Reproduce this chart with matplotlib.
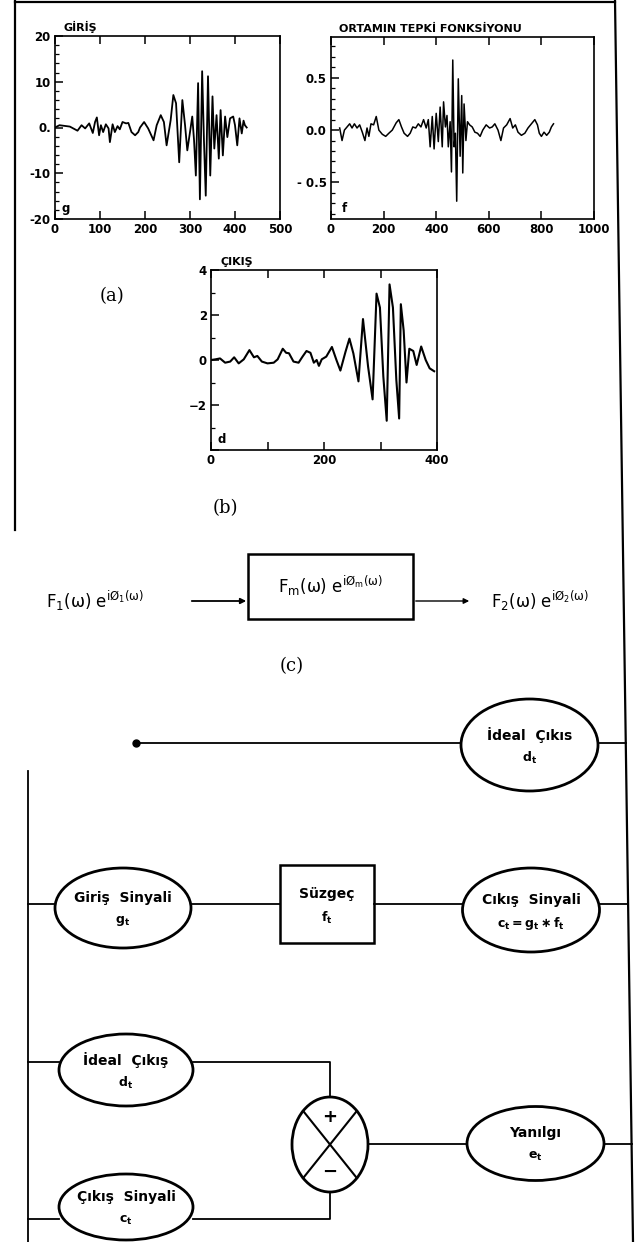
import numpy as np
import matplotlib.pyplot as plt
from matplotlib.patches import Ellipse, Rectangle

plt.rcParams['font.family'] = ['Liberation Sans Narrow', 'DejaVu Sans']
plt.rcParams['mathtext.fontset'] = 'dejavusans'

# --- data ---
# input signal g (GIRIS)
giris_t = [0, 10, 33, 50, 59, 67, 76, 84, 89, 93, 98, 102, 107, 113, 119, 122, 128, 133, 139,
           144, 150, 158, 163, 170, 178, 185, 189, 198, 207, 219, 226, 235, 242, 248, 257, 263,
           269, 276, 283, 289, 294, 300, 305, 309, 313, 318, 322, 327, 331, 335, 340, 345, 350,
           354, 359, 364, 368, 373, 378, 383, 389, 396, 400, 405, 410, 415, 419, 422, 426]
giris_v = [0, 0.5, 0.2, -0.7, 0.5, -0.2, 0.9, -1.2, 1.2, 2.2, -1.7, 0.5, -1.0, 0.7, -0.2, -3.2,
           0.7, -1.0, 0.3, -0.4, 1.2, 0.9, 1.0, -1.0, -1.7, -1.0, 0.0, 1.2, -0.2, -2.8, 0.5, 2.7,
           1.2, -3.9, 1.6, 7.1, 5.3, -7.6, 6.0, 0.5, -5.0, -1.0, 2.4, -2.8, -10.5, 9.7, -15.7,
           12.3, -2.8, -14.9, 11.2, -10.5, 6.8, -4.6, 2.7, -6.8, 3.8, -6.1, 2.4, -2.1, 2.0, 2.4,
           0.5, -3.9, 2.0, -1.3, 1.5, 0.5, 0.0]

# medium response f (ORTAMIN TEPKI FONKSIYONU)
ortam_t = [33, 42, 51, 61, 71, 80, 89, 99, 109, 119, 129, 137, 144, 152, 162, 172, 182, 195,
           208, 220, 233, 248, 258, 268, 278, 291, 301, 311, 322, 332, 342, 352, 362, 370, 377,
           385, 392, 400, 408, 415, 423, 428, 435, 441, 446, 453, 458, 463, 468, 473, 478, 484,
           491, 497, 501, 506, 513, 519, 527, 537, 547, 557, 567, 577, 590, 603, 613, 623, 635,
           646, 656, 668, 681, 691, 701, 711, 724, 737, 749, 762, 775, 785, 792, 800, 810, 820,
           830, 838, 846]
ortam_v = [0.02, -0.1, 0.0, 0.03, 0.06, 0.02, 0.06, 0.02, 0.05, -0.02, -0.1, 0.02, -0.06,
           0.06, 0.05, 0.13, 0.0, -0.04, -0.06, -0.03, 0.0, 0.07, 0.1, 0.03, -0.03, -0.06,
           -0.03, 0.03, 0.02, 0.06, 0.03, 0.1, 0.02, 0.1, -0.16, 0.13, -0.18, 0.16, -0.11,
           0.22, -0.16, 0.27, 0.03, 0.14, -0.16, 0.08, -0.4, 0.67, -0.16, -0.03, -0.68, 0.49,
           -0.25, 0.33, -0.41, 0.25, -0.1, 0.08, 0.05, 0.03, -0.02, -0.03, -0.06, 0.0, 0.05,
           0.02, 0.03, 0.06, 0.0, -0.1, 0.02, 0.05, 0.11, 0.02, 0.05, -0.02, -0.05, -0.03, 0.02,
           0.06, 0.1, 0.05, -0.03, -0.06, -0.02, -0.05, -0.02, 0.03, 0.06]

# output signal d (CIKIS)
cikis_t = [0, 8, 16, 25, 34, 41, 49, 58, 68, 76, 82, 90, 100, 111, 118, 127, 133, 138, 146,
           155, 162, 169, 176, 182, 187, 191, 196, 204, 214, 222, 229, 238, 245, 252, 261, 269,
           278, 286, 293, 299, 305, 311, 316, 322, 328, 333, 336, 341, 346, 351, 358, 364, 372,
           380, 387, 395]
cikis_v = [0.0, 0.03, 0.07, -0.12, -0.07, 0.12, -0.15, 0.03, 0.44, 0.12, 0.18, -0.07, -0.15,
           -0.12, 0.03, 0.5, 0.32, 0.3, -0.07, -0.12, 0.15, 0.4, 0.32, -0.12, 0.0, -0.26, 0.03,
           0.15, 0.58, 0.0, -0.47, 0.36, 0.95, 0.29, -0.95, 1.82, -0.29, -1.75, 2.95, 2.33,
           -0.73, -2.7, 3.36, 2.33, -0.88, -2.6, 2.48, 1.31, -1.0, 0.5, 0.4, -0.22, 0.6, 0.0,
           -0.37, -0.5]

W, H = 639, 1242
fig = plt.figure(figsize=(W / 100, H / 100), dpi=100)


def rect(l, t, r, b):
    return [l / W, 1 - b / H, (r - l) / W, (b - t) / H]


# overlay in pixel coords for frame, labels and block diagrams
ax0 = fig.add_axes([0, 0, 1, 1])
ax0.set_xlim(0, W)
ax0.set_ylim(H, 0)
ax0.axis('off')


def border_x(y):
    return 615 + 18 * y / H


# outer frame pieces
ax0.plot([15, 615], [2, 2], color='k', lw=1.6)
ax0.plot([border_x(0), border_x(H)], [0, H], color='k', lw=1.6)
ax0.plot([15, 15], [0, 530], color='k', lw=1.6)

tick_font = dict(fontsize=8.5, fontweight='bold')


def style_axes(ax):
    for s in ax.spines.values():
        s.set_linewidth(1.2)
    ax.tick_params(which='both', direction='in', top=True, bottom=True, left=True, right=False,
                   labelsize=8.5, pad=3)
    ax.tick_params(which='major', length=6, width=1.1)
    ax.tick_params(which='minor', length=3, width=0.9)
    ax.tick_params(axis='x', which='minor', top=False, bottom=False)
    for lab in ax.get_xticklabels() + ax.get_yticklabels():
        lab.set_fontweight('bold')
    ax.set_facecolor('none')


# (a) left: input
ax1 = fig.add_axes(rect(55, 36, 280, 219))
ax1.plot(giris_t, giris_v, color='k', lw=1.3)
ax1.set_xlim(0, 500)
ax1.set_ylim(-20, 20)
ax1.set_xticks([0, 100, 200, 300, 400, 500])
ax1.set_yticks([-20, -10, 0, 10, 20])
ax1.set_yticklabels(['-20', '-10', '0.', '10', '20'])
ax1.set_yticks(np.arange(-20, 21, 2), minor=True)
style_axes(ax1)
ax1.text(0.03, 0.04, 'g', transform=ax1.transAxes, **tick_font)
ax1.text(0.04, 1.03, 'GİRİŞ', transform=ax1.transAxes, fontsize=8, fontweight='bold')

# (a) right: medium response
ax2 = fig.add_axes(rect(331, 37, 594, 219))
ax2.plot(ortam_t, ortam_v, color='k', lw=1.1)
ax2.set_xlim(0, 1000)
ax2.set_ylim(-0.85, 0.89)
ax2.set_xticks([0, 200, 400, 600, 800, 1000])
ax2.set_yticks([-0.5, 0.0, 0.5])
ax2.set_yticklabels(['- 0.5', '0.0', '0.5'])
ax2.set_yticks(np.arange(-0.8, 0.85, 0.1), minor=True)
style_axes(ax2)
ax2.text(0.04, 0.04, 'f', transform=ax2.transAxes, **tick_font)
ax2.text(0.03, 1.03, 'ORTAMIN TEPKİ FONKSİYONU', transform=ax2.transAxes,
         fontsize=8, fontweight='bold')

# (b) output
ax3 = fig.add_axes(rect(211, 270, 437, 450))
ax3.plot(cikis_t, cikis_v, color='k', lw=1.5)
ax3.set_xlim(0, 400)
ax3.set_ylim(-4, 4)
ax3.set_xticks([0, 100, 200, 300, 400])
ax3.set_xticklabels(['0', '', '200', '', '400'])
ax3.set_yticks([-4, -2, 0, 2, 4])
ax3.set_yticklabels(['', '\u22122', '0', '2', '4'])
ax3.set_yticks(np.arange(-4, 5, 1), minor=True)
style_axes(ax3)
ax3.text(0.03, 0.04, 'd', transform=ax3.transAxes, **tick_font)
ax3.text(0.04, 1.03, 'ÇIKIŞ', transform=ax3.transAxes, fontsize=8, fontweight='bold')

serif = dict(fontsize=13, family='DejaVu Serif', ha='center', va='center')
ax0.text(112, 296, '(a)', **serif)
ax0.text(225, 508, '(b)', **serif)
ax0.text(292, 666, '(c)', **serif)

# (c) transfer block
eq = dict(fontsize=12, ha='center', va='center')
ax0.text(95, 601, r'$\mathrm{F_1(\omega)\ e^{iØ_1(\omega)}}$', **eq)
ax0.add_patch(Rectangle((248, 554), 165, 65, fill=False, lw=1.8, ec='k'))
ax0.text(330, 586, r'$\mathrm{F_m(\omega)\ e^{iØ_m(\omega)}}$', **eq)
ax0.text(540, 601, r'$\mathrm{F_2(\omega)\ e^{iØ_2(\omega)}}$', **eq)
ax0.annotate('', xy=(249, 601), xytext=(189, 601),
             arrowprops=dict(arrowstyle='-|>', lw=1.3, color='k', mutation_scale=8))
ax0.annotate('', xy=(472, 601), xytext=(413, 601),
             arrowprops=dict(arrowstyle='-|>', lw=1.0, color='k', mutation_scale=8))

# --- adaptive filter diagram ---
lbl = dict(fontsize=10, fontweight='bold', ha='center', va='center')
sub = dict(fontsize=9, ha='center', va='center')


def oval(cx, cy, w, h, top, bottom):
    ax0.add_patch(Ellipse((cx, cy), w, h, fill=False, lw=2.0, ec='k'))
    ax0.text(cx, cy - 10, top, **lbl)
    ax0.text(cx, cy + 13, bottom, **sub)


lw_c = 1.3
# row 1: ideal output reference
ax0.plot([136], [743], 'o', color='k', ms=5)
ax0.plot([136, 461], [743, 743], color='k', lw=lw_c)
oval(529.5, 745, 137, 92, 'İdeal  Çıkıs', r'$\mathbf{d_t}$')
ax0.plot([598, border_x(743)], [743, 743], color='k', lw=lw_c)

# left bus
ax0.plot([28, 28], [771, H], color='k', lw=lw_c)

# row 2: input -> filter -> output
ax0.plot([28, 55], [904, 904], color='k', lw=lw_c)
oval(123, 908, 136, 80, 'Giriş  Sinyali', r'$\mathbf{g_t}$')
ax0.plot([191, 280], [904, 904], color='k', lw=lw_c)
ax0.add_patch(Rectangle((280, 865), 94, 78, fill=False, lw=1.8, ec='k'))
ax0.text(327, 894, 'Süzgeç', **lbl)
ax0.text(327, 918, r'$\mathbf{f_t}$', **sub)
ax0.plot([374, 463], [904, 904], color='k', lw=lw_c)
oval(531, 910, 137, 84, 'Cıkış  Sinyali', r'$\mathbf{c_t = g_t \ast f_t}$')
ax0.plot([600, border_x(904)], [904, 904], color='k', lw=lw_c)

# row 3/4: comparison
ax0.plot([28, 59], [1062, 1062], color='k', lw=lw_c)
oval(126, 1070, 134, 72, 'İdeal  Çıkış', r'$\mathbf{d_t}$')
ax0.plot([193, 330, 330], [1062, 1062, 1097], color='k', lw=lw_c)

ax0.plot([28, 59], [1219, 1219], color='k', lw=lw_c)
oval(126, 1207, 134, 66, 'Çıkış  Sinyali', r'$\mathbf{c_t}$')
ax0.plot([193, 330, 330], [1219, 1219, 1192], color='k', lw=lw_c)

# summing junction
cx, cy, cw, ch = 330, 1144.5, 76, 95
ax0.add_patch(Ellipse((cx, cy), cw, ch, fill=False, lw=2.0, ec='k'))
d = np.sqrt(0.5)
ax0.plot([cx - cw / 2 * d, cx + cw / 2 * d], [cy - ch / 2 * d, cy + ch / 2 * d], color='k', lw=1.5)
ax0.plot([cx - cw / 2 * d, cx + cw / 2 * d], [cy + ch / 2 * d, cy - ch / 2 * d], color='k', lw=1.5)
ax0.text(cx, cy - 27, '+', fontsize=13, fontweight='bold', ha='center', va='center')
ax0.text(cx, cy + 27, '\u2212', fontsize=13, fontweight='bold', ha='center', va='center')

ax0.plot([cx + cw / 2, 467], [1144, 1144], color='k', lw=lw_c)
oval(535.5, 1143.5, 137, 74, 'Yanılgı', r'$\mathbf{e_t}$')
ax0.plot([604, border_x(1144)], [1144, 1144], color='k', lw=lw_c)

fig.savefig('out.png', dpi=100)
